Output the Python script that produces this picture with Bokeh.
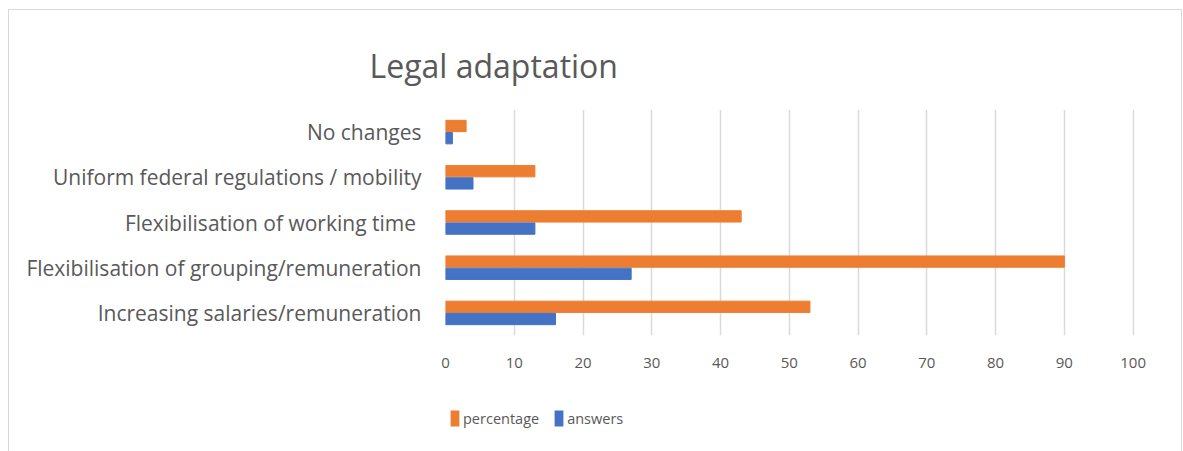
from bokeh.plotting import figure
from bokeh.layouts import column
from bokeh.models import ColumnDataSource, FactorRange, FixedTicker, Legend, LegendItem
from bokeh.transform import dodge
from bokeh.embed import file_html
from bokeh.resources import INLINE

# Survey results: requested legal adaptations
categories = [
    "No changes",
    "Uniform federal regulations / mobility",
    "Flexibilisation of working time ",
    "Flexibilisation of grouping/remuneration",
    "Increasing salaries/remuneration",
]
percentage = [3, 13, 43, 90, 53]
answers = [1, 4, 13, 27, 16]
x_ticks = [0, 10, 20, 30, 40, 50, 60, 70, 80, 90, 100]
series_names = ["percentage", "answers"]

ORANGE = "#ED7D31"
BLUE = "#4472C4"
TEXT = "#595959"
GRID = "#d9d9d9"
FONT = "Open Sans"

src = ColumnDataSource(dict(cat=categories, percentage=percentage, answers=answers))

# main bar chart
p = figure(
    width=1172, height=380,
    y_range=FactorRange(factors=categories[::-1], range_padding=0),
    x_range=(0, 100.2),
    output_backend="svg", toolbar_location=None,
    min_border_left=436, min_border_right=47,
    min_border_top=99, min_border_bottom=55,
)

p.hbar(y=dodge("cat", 0.135, range=p.y_range), right="percentage", left=0,
       height=0.25, color=ORANGE, source=src)
p.hbar(y=dodge("cat", -0.135, range=p.y_range), right="answers", left=0,
       height=0.25, color=BLUE, source=src)

p.outline_line_color = None
p.ygrid.grid_line_color = None
p.xgrid.grid_line_color = GRID
p.xgrid.grid_line_width = 1.5

p.xaxis.ticker = FixedTicker(ticks=x_ticks)
for ax in (p.xaxis, p.yaxis):
    ax.axis_line_color = None
    ax.major_tick_line_color = None
    ax.minor_tick_line_color = None
    ax.major_label_text_color = TEXT
    ax.major_label_text_font = FONT
p.xaxis.major_label_text_font_size = "15px"
p.xaxis.major_label_standoff = 16
p.yaxis.major_label_text_font_size = "21px"
p.yaxis.major_label_standoff = 18

p.title.text = "Legal adaptation"
p.title.text_font = FONT
p.title.text_font_size = "32px"
p.title.text_font_style = "normal"
p.title.text_color = TEXT
p.title.align = "left"
p.title.offset = -76
p.title.standoff = 46

# legend strip underneath the chart (keys sit outside its visible range)
lg = figure(
    width=1172, height=62, x_range=(0, 1), y_range=(0, 1),
    output_backend="svg", toolbar_location=None,
    min_border=0, outline_line_color=None,
)
lg.axis.visible = False
lg.grid.visible = False
key_pct = lg.quad(left=[-5], right=[-4], bottom=[-5], top=[-4],
                  fill_color=ORANGE, line_color=None)
key_ans = lg.quad(left=[-5], right=[-4], bottom=[-5], top=[-4],
                  fill_color=BLUE, line_color=None)

legend = Legend(
    items=[LegendItem(label=series_names[0], renderers=[key_pct]),
           LegendItem(label=series_names[1], renderers=[key_ans])],
    orientation="horizontal", location=(4, 24),
    border_line_color=None, background_fill_alpha=0,
    label_text_font=FONT, label_text_font_size="14.5px", label_text_color=TEXT,
    glyph_width=11, glyph_height=20, label_standoff=3, spacing=14,
    padding=0, margin=0,
)
lg.add_layout(legend)

layout = column(p, lg, spacing=0, margin=(9, 0, 0, 8))
layout.styles = {"border": "1px solid #d9d9d9"}

open("out.html", "w").write(file_html(layout, INLINE))
